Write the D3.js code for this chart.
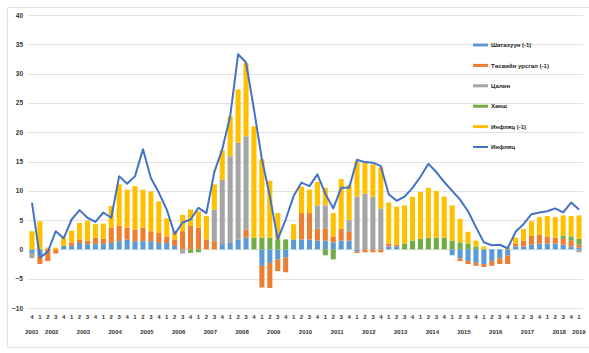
<!DOCTYPE html>
<html>
<head>
<meta charset="utf-8">
<script src="https://cdn.jsdelivr.net/npm/d3@7"></script>
<style>
  html, body { margin: 0; padding: 0; background: #fff; }
  svg { display: block; }
  text { font-family: "Liberation Sans", Arial, sans-serif; }
</style>
</head>
<body>
<svg id="chart" width="589" height="353"></svg>
<script>
// Quarterly periods, 2001 Q4 to 2019 Q1
const periods = [
  "2001Q4",
  "2002Q1","2002Q2","2002Q3","2002Q4",
  "2003Q1","2003Q2","2003Q3","2003Q4",
  "2004Q1","2004Q2","2004Q3","2004Q4",
  "2005Q1","2005Q2","2005Q3","2005Q4",
  "2006Q1","2006Q2","2006Q3","2006Q4",
  "2007Q1","2007Q2","2007Q3","2007Q4",
  "2008Q1","2008Q2","2008Q3","2008Q4",
  "2009Q1","2009Q2","2009Q3","2009Q4",
  "2010Q1","2010Q2","2010Q3","2010Q4",
  "2011Q1","2011Q2","2011Q3","2011Q4",
  "2012Q1","2012Q2","2012Q3","2012Q4",
  "2013Q1","2013Q2","2013Q3","2013Q4",
  "2014Q1","2014Q2","2014Q3","2014Q4",
  "2015Q1","2015Q2","2015Q3","2015Q4",
  "2016Q1","2016Q2","2016Q3","2016Q4",
  "2017Q1","2017Q2","2017Q3","2017Q4",
  "2018Q1","2018Q2","2018Q3","2018Q4",
  "2019Q1"
];

// Contributions to inflation, percentage points
const fuel = [ // Шатахуун (-1)
  -0.6,-1.1,0,0,0.6, 0.6,1.1,0.9,0.9, 0.9,1.1,1.4,1.7, 1.4,1.4,1.4,1.1, 1.1,0.6,0,0,
  0,0,0,0.9, 1.1,1.7,2.0,0, -2.8,-2.3,-1.7,-1.4, 1.7,1.7,1.7,1.5,
  1.5,1.2,1.5,1.5, -0.3,0,0,0, 0.5,0.5,0,0, 0,0,0,0,
  -1.0,-1.5,-2.0,-2.3, -2.5,-2.0,-1.5,-1.0, 0.5,0.5,0.8,1.0, 1.0,1.0,0.8,0.5, 0.3
];
const budget = [ // Төсвийн урсгал (-1)
  0,-1.4,-2.0,-0.7,0, 0.6,0.6,0.6,1.1, 0.9,2.6,2.6,2.0, 2.0,2.3,1.7,1.7, 1.1,1.1,3.1,4.0,
  3.7,1.7,1.4,0, 0,0,1.4,0, -3.7,-4.3,-2.0,-2.5, 0,4.5,4.5,2.0,
  2.0,1.0,2.0,1.5, -0.3,-0.5,-0.5,-0.5, 0.5,0.3,0,0, 0,0,0,0,
  0,-0.5,-0.5,-0.5, -0.5,-0.8,-1.0,-1.5, 0.5,1.0,1.5,1.5, 1.2,1.0,1.0,1.0, 0.5
];
const wage = [ // Цалин
  -0.9,0,0,0,0, 0,0,0,0, 0,0,0,0, 0,0,0,0, 0,0,-0.7,0,
  0,0,5.4,11.0, 14.8,16.5,15.9,0, 0,0,0,0, 0,0,0,4.0,
  4.0,0,0,2.0, 9.0,9.5,9.0,7.0, 0,0,0,0, 0,0,0,0,
  0,0,0,0, 0,0,0,0, 0,0,0,0, 0,0,0,0, -0.5
];
const fx = [ // Ханш
  0,0,0,0,0, 0,0,0,0, 0,0,0,0, 0,0,0,0, 0,0,0,-0.6,
  -0.5,0,0,0, 0,0,0,2.0, 2.0,2.0,1.7,1.7, 0,0,0,0,
  -1.0,-1.7,0,0, 0,0,0,0, 0,0,1.0,1.5, 1.8,2.0,2.0,2.0,
  1.5,1.2,1.0,0.5, 0,0,0,0, 0,0,0,0, 0,0,0.5,0.7, 1.0
];
const lagInfl = [ // Инфляц (-1)
  3.1,4.8,0.3,0.3,1.4, 2.0,2.8,3.4,2.3, 2.6,3.7,7.1,6.5, 7.4,6.5,6.8,5.4, 3.1,1.4,2.8,2.8,
  2.8,4.0,4.3,5.0, 6.8,9.1,12.5,19.0, 13.4,9.7,4.5,0, 2.6,4.5,4.0,4.0,
  3.0,4.0,8.5,6.0, 6.0,5.3,5.5,7.0, 7.0,6.5,6.5,7.5, 8.0,8.5,8.0,7.0,
  6.0,4.0,2.0,1.0, 0.5,0,0,0.3, 1.0,2.0,2.5,3.0, 3.5,3.5,3.5,3.5, 4.0
];
// Headline inflation, % y/y
const inflation = [
  8.0,-1.4,-0.4,3.1,1.9, 5.1,6.7,5.4,4.7, 6.3,5.4,12.5,11.2, 12.5,17.1,12.2,9.7, 6.8,2.6,4.6,5.1,
  7.1,6.2,13.2,17.1, 22.7,33.3,31.9,23.9, 15.4,9.1,1.7,5.1, 9.1,11.4,10.8,12.8,
  9.5,7.0,10.5,10.5, 15.3,14.9,14.8,14.2, 9.4,8.3,9.0,10.5, 12.4,14.6,13.2,11.5,
  10.0,8.5,6.5,3.8, 1.2,0.7,0.8,0.2, 3.0,4.3,6.0,6.3, 6.5,7.0,6.3,8.0, 6.8
];

const yTicks = [-10, -5, 0, 5, 10, 15, 20, 25, 30, 35, 40];

const seriesNames = ["Шатахуун (-1)", "Төсвийн урсгал (-1)", "Цалин", "Ханш", "Инфляц (-1)"];
const seriesColors = ["#5B9BD5", "#ED7D31", "#A5A5A5", "#70AD47", "#FFC000"];
const lineName = "Инфляц";
const lineColor = "#4472C4";

const svg = d3.select("#chart");

// light outer frame
svg.append("rect")
  .attr("x", 7.5).attr("y", 7.5).attr("width", 590).attr("height", 340)
  .attr("fill", "none").attr("stroke", "#e3e3e3").attr("stroke-width", 1);

const x = d3.scaleBand().domain(periods).range([28, 583]).paddingInner(0.36).paddingOuter(0.18);
const y = d3.scaleLinear().domain([-10, 40]).range([308, 15]);

// grid
svg.append("g").selectAll("line").data(yTicks).join("line")
  .attr("x1", 28).attr("x2", 583)
  .attr("y1", d => Math.round(y(d)) + 0.5).attr("y2", d => Math.round(y(d)) + 0.5)
  .attr("stroke", "#e2e2e2").attr("stroke-width", 1);

// y axis labels
const yAxis = d3.axisLeft(y).tickValues(yTicks).tickSize(0).tickPadding(0);
svg.append("g").attr("transform", "translate(23,0)").call(yAxis)
  .call(g => g.select(".domain").remove())
  .call(g => g.selectAll("text").attr("font-size", 6.5).attr("font-weight", "bold").attr("fill", "#333"));

// stacked bars
const rows = periods.map((p, i) => ({
  p, s0: fuel[i], s1: budget[i], s2: wage[i], s3: fx[i], s4: lagInfl[i]
}));
const keys = ["s0", "s1", "s2", "s3", "s4"];
const stacked = d3.stack().keys(keys).offset(d3.stackOffsetDiverging)(rows);

svg.append("g").selectAll("g").data(stacked).join("g")
  .attr("fill", (d, i) => seriesColors[i])
  .selectAll("rect").data(d => d).join("rect")
  .attr("x", d => x(d.data.p))
  .attr("width", x.bandwidth())
  .attr("y", d => y(Math.max(d[0], d[1])))
  .attr("height", d => Math.abs(y(d[0]) - y(d[1])));

// inflation line
const line = d3.line()
  .x((d, i) => x(periods[i]) + x.bandwidth() / 2)
  .y(d => y(d));
svg.append("path").datum(inflation)
  .attr("d", line)
  .attr("fill", "none").attr("stroke", lineColor).attr("stroke-width", 2)
  .attr("stroke-linejoin", "round");

// x axis: quarter numbers and years
const qAxis = d3.axisBottom(x).tickSize(0).tickPadding(0).tickFormat(p => p.slice(5));
svg.append("g").attr("transform", "translate(0,315)").call(qAxis)
  .call(g => g.select(".domain").remove())
  .call(g => g.selectAll("text").attr("font-size", 6).attr("font-weight", "bold").attr("fill", "#333"));

const yearGroups = d3.groups(periods, p => p.slice(0, 4));
svg.append("g").selectAll("text").data(yearGroups).join("text")
  .attr("x", d => (x(d[1][0]) + x(d[1][d[1].length - 1]) + x.bandwidth()) / 2)
  .attr("y", 334)
  .attr("text-anchor", "middle")
  .attr("font-size", 6).attr("font-weight", "bold").attr("fill", "#333")
  .text(d => d[0]);

// legend
const legendItems = seriesNames.map((n, i) => ({ n, c: seriesColors[i], w: 3 }))
  .concat([{ n: lineName, c: lineColor, w: 2 }]);
const lg = svg.append("g").selectAll("g").data(legendItems).join("g")
  .attr("transform", (d, i) => `translate(473,${45 + i * 20.4})`);
lg.append("line").attr("x1", 0).attr("x2", 15).attr("y1", 0).attr("y2", 0)
  .attr("stroke", d => d.c).attr("stroke-width", d => d.w);
lg.append("text").attr("x", 18).attr("y", 2.2)
  .attr("font-size", 6).attr("font-weight", "bold").attr("fill", "#222")
  .text(d => d.n);
</script>
</body>
</html>
